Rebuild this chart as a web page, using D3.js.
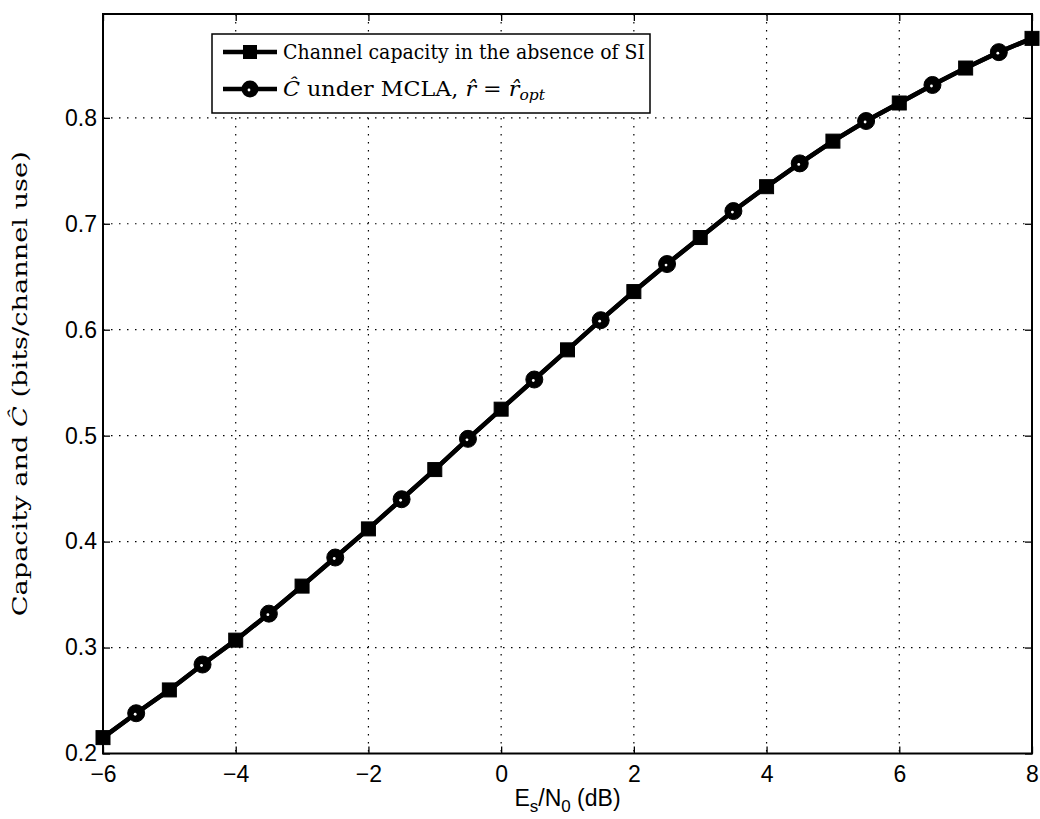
<!DOCTYPE html>
<html><head><meta charset="utf-8">
<script src="https://cdn.jsdelivr.net/npm/d3@7"></script>
<style>body{margin:0;background:#fff}svg{display:block}</style>
</head><body>
<svg id="c" width="1040" height="819"></svg>
<script>
const xValues = [-6,-5.5,-5,-4.5,-4,-3.5,-3,-2.5,-2,-1.5,-1,-0.5,0,0.5,1,1.5,2,2.5,3,3.5,4,4.5,5,5.5,6,6.5,7,7.5,8];
const capacity = [0.215,0.238,0.260,0.284,0.307,0.332,0.358,0.385,0.412,0.440,0.468,0.497,0.525,0.553,0.581,0.609,0.636,0.662,0.687,0.712,0.735,0.757,0.778,0.797,0.814,0.831,0.847,0.862,0.875];
const cHat = [0.215,0.238,0.260,0.284,0.307,0.332,0.358,0.385,0.412,0.440,0.468,0.497,0.525,0.553,0.581,0.609,0.636,0.662,0.687,0.712,0.735,0.757,0.778,0.797,0.814,0.831,0.847,0.862,0.875];
const xTicks = [-6,-4,-2,0,2,4,6,8];
const yTicks = [0.2,0.3,0.4,0.5,0.6,0.7,0.8];
const legendLabels = ["Channel capacity in the absence of SI", "under MCLA, "];

const svg = d3.select("#c");
const L=103, R=1032, T=14, B=753.5;
const x = d3.scaleLinear().domain([-6,8]).range([L,R]);
const y = d3.scaleLinear().domain([0.2,0.898]).range([B,T]);

// grid
const g = svg.append("g");
g.selectAll("line.gx").data(xTicks.slice(1,-1)).join("line")
  .attr("x1",d=>x(d)).attr("x2",d=>x(d)).attr("y1",T).attr("y2",B)
  .attr("stroke","#000").attr("stroke-width",1.2).attr("stroke-dasharray","1.5,6.5");
g.selectAll("line.gy").data(yTicks.slice(1)).join("line")
  .attr("y1",d=>y(d)).attr("y2",d=>y(d)).attr("x1",L).attr("x2",R)
  .attr("stroke","#000").attr("stroke-width",1.2).attr("stroke-dasharray","1.5,6.5");

// axes
const tickFont = "'Liberation Sans', Arial, sans-serif";
const xAxis = d3.axisBottom(x).tickValues(xTicks).tickSize(-7).tickPadding(12).tickFormat(d=>d<0?"\u2212"+(-d):d);
const yAxis = d3.axisLeft(y).tickValues(yTicks).tickSize(-7).tickPadding(6).tickFormat(d3.format(".1f"));
const gx = svg.append("g").attr("transform",`translate(0,${B})`).call(xAxis);
const gy = svg.append("g").attr("transform",`translate(${L},0)`).call(yAxis);
svg.append("g").attr("transform",`translate(0,${T})`).call(d3.axisTop(x).tickValues(xTicks).tickSize(-7).tickFormat(""));
svg.append("g").attr("transform",`translate(${R},0)`).call(d3.axisRight(y).tickValues(yTicks).tickSize(-7).tickFormat(""));
svg.selectAll(".domain").remove();
svg.selectAll(".tick line").attr("stroke","#000").attr("stroke-width",1.3);
[gx,gy].forEach(a=>a.selectAll("text").attr("font-family",tickFont).attr("font-size",23).attr("fill","#000"));
gx.selectAll("text").attr("dy","0.71em");
svg.append("rect").attr("x",L).attr("y",T).attr("width",R-L).attr("height",B-T)
  .attr("fill","none").attr("stroke","#000").attr("stroke-width",2);

// series
const line = d3.line().x(d=>x(d[0])).y(d=>y(d[1]));
const pts1 = xValues.map((v,i)=>[v,capacity[i]]);
const pts2 = xValues.map((v,i)=>[v,cHat[i]]);
svg.append("path").attr("d",line(pts1)).attr("fill","none").attr("stroke","#000").attr("stroke-width",4.5);
svg.append("path").attr("d",line(pts2)).attr("fill","none").attr("stroke","#000").attr("stroke-width",4.5);
const sq = pts1.filter(d=>Number.isInteger(d[0]));
const ci = pts2.filter(d=>!Number.isInteger(d[0]));
svg.selectAll("rect.sq").data(sq).join("rect")
  .attr("x",d=>x(d[0])-7).attr("y",d=>y(d[1])-7).attr("width",14).attr("height",14)
  .attr("fill","#000").attr("stroke","#000").attr("stroke-width",1);
svg.selectAll("circle.ci").data(ci).join("circle")
  .attr("cx",d=>x(d[0])).attr("cy",d=>y(d[1])).attr("r",8.5)
  .attr("fill","#000").attr("stroke","#000").attr("stroke-width",1);
svg.selectAll("circle.cw").data(ci).join("circle")
  .attr("cx",d=>x(d[0])-1).attr("cy",d=>y(d[1])+1).attr("r",1.4)
  .attr("fill","#fff");

// legend
const serif = "'DejaVu Serif', 'Liberation Serif', serif";
const lg = svg.append("g");
lg.append("rect").attr("x",212).attr("y",34).attr("width",438).attr("height",79)
  .attr("fill","#fff").attr("stroke","#000").attr("stroke-width",1.5);
const r1 = 52, r2 = 89;
lg.append("line").attr("x1",223).attr("x2",277).attr("y1",r1).attr("y2",r1).attr("stroke","#000").attr("stroke-width",4.5);
lg.append("rect").attr("x",250-7).attr("y",r1-7).attr("width",14).attr("height",14).attr("fill","#000");
lg.append("line").attr("x1",223).attr("x2",277).attr("y1",r2).attr("y2",r2).attr("stroke","#000").attr("stroke-width",4.5);
lg.append("circle").attr("cx",250).attr("cy",r2).attr("r",8.5).attr("fill","#000");
lg.append("circle").attr("cx",249).attr("cy",r2+1).attr("r",1.4).attr("fill","#fff");
lg.append("text").attr("x",283).attr("y",r1+7).attr("font-family",serif).attr("font-size",20)
  .attr("textLength",362).attr("lengthAdjust","spacingAndGlyphs").text(legendLabels[0]);
const t2 = lg.append("text").attr("x",283).attr("y",r2+7).attr("font-family",serif).attr("font-size",20)
  .attr("textLength",262).attr("lengthAdjust","spacingAndGlyphs");
t2.append("tspan").attr("font-style","italic").text("\u0108");
t2.append("tspan").text(" " + legendLabels[1]);
t2.append("tspan").attr("font-style","italic").text("r\u0302");
t2.append("tspan").text(" = ");
t2.append("tspan").attr("font-style","italic").text("r\u0302");
t2.append("tspan").attr("font-style","italic").attr("font-size",14).attr("dy",4).text("opt");

// axis labels
const xl = svg.append("text").attr("x",(L+R)/2).attr("y",806).attr("text-anchor","middle")
  .attr("font-family",tickFont).attr("font-size",23);
xl.append("tspan").text("E");
xl.append("tspan").attr("font-size",17).attr("dy",6).text("s");
xl.append("tspan").attr("dy",-6).text("/N");
xl.append("tspan").attr("font-size",17).attr("dy",6).text("0");
xl.append("tspan").attr("dy",-6).text(" (dB)");

const yl = svg.append("text").attr("transform",`translate(27,${(T+B)/2}) rotate(-90)`)
  .attr("text-anchor","middle").attr("font-family",serif).attr("font-size",20)
  .attr("textLength",465).attr("lengthAdjust","spacingAndGlyphs");
yl.append("tspan").text("Capacity and ");
yl.append("tspan").attr("font-style","italic").text("\u0108");
yl.append("tspan").text(" (bits/channel use)");
</script>
</body></html>
